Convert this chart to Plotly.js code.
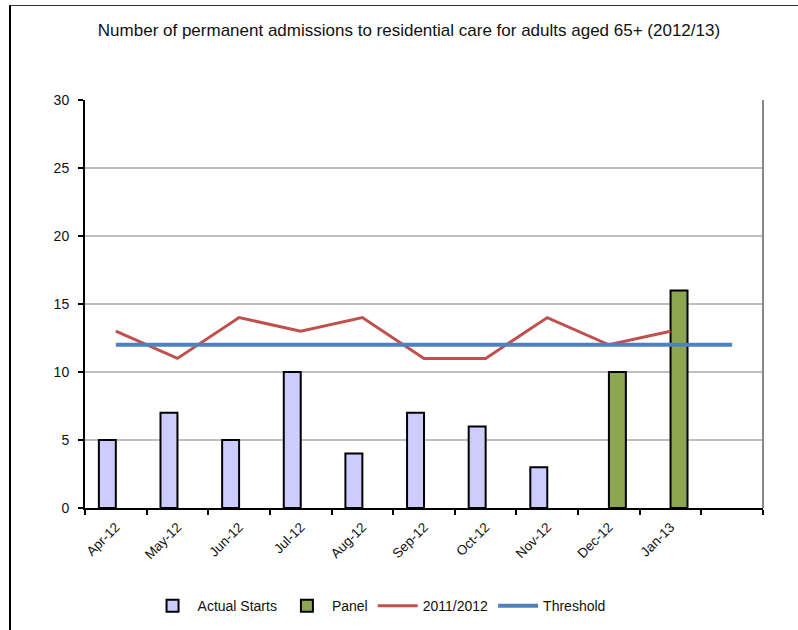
<!DOCTYPE html>
<html>
<head>
<meta charset="utf-8">
<script src="https://cdn.plot.ly/plotly-3.0.1.min.js"></script>
<style>
  html, body { margin: 0; padding: 0; background: #fff; }
  #frame { position: absolute; left: 0; top: 0; width: 798px; height: 630px; }
  #frame:before { content: ""; position: absolute; left: 9px; top: 5px; right: 0; bottom: 0;
    border-left: 2px solid #000; border-top: 1px solid #333; pointer-events: none; z-index: 5; }
  #chart { width: 798px; height: 630px; }
</style>
</head>
<body>
<div id="frame"><div id="chart"></div></div>
<script>
// ---- data ----
const categories = ["Apr-12", "May-12", "Jun-12", "Jul-12", "Aug-12", "Sep-12", "Oct-12", "Nov-12", "Dec-12", "Jan-13", "Feb-13"];
const tickLabels = ["Apr-12", "May-12", "Jun-12", "Jul-12", "Aug-12", "Sep-12", "Oct-12", "Nov-12", "Dec-12", "Jan-13", ""];
const actualStarts = [5, 7, 5, 10, 4, 7, 6, 3, null, null, null];
const panel = [null, null, null, null, null, null, null, null, 10, 16, null];
const prevYear = [13, 11, 14, 13, 14, 11, 11, 14, 12, 13, null];
const threshold = [12, 12, 12, 12, 12, 12, 12, 12, 12, 12, 12];
const yTicks = [0, 5, 10, 15, 20, 25, 30];

const font = "Arial, 'Liberation Sans', sans-serif";

const traces = [
  { type: "bar", name: "Actual Starts", x: categories, y: actualStarts,
    marker: { color: "#CCCCFF", line: { color: "#000", width: 2 } } },
  { type: "bar", name: "Panel", x: categories, y: panel,
    marker: { color: "#8CA750", line: { color: "#000", width: 2 } } },
  { type: "scatter", mode: "lines", name: "2011/2012", x: categories, y: prevYear,
    line: { color: "#C0504D", width: 3 } },
  { type: "scatter", mode: "lines", name: "Threshold", x: categories, y: threshold,
    line: { color: "#4F81BD", width: 4 } }
];

const layout = {
  width: 798, height: 630,
  margin: { l: 85, r: 35, t: 100, b: 122 },
  paper_bgcolor: "#fff", plot_bgcolor: "#fff",
  font: { family: font, size: 12, color: "#111" },
  title: { text: "Number of permanent admissions to residential care for adults aged 65+ (2012/13)",
    x: 0.5125, xanchor: "center", y: 0.952, yanchor: "middle",
    font: { family: font, size: 17, color: "#111" } },
  barmode: "group", bargap: 0.45, bargroupgap: 0,
  showlegend: true,
  legend: { orientation: "h", xref: "container", yref: "container",
    x: 0.475, xanchor: "center", y: 0.038, yanchor: "middle",
    itemwidth: 40, font: { family: font, size: 14, color: "#111" }, traceorder: "normal" },
  xaxis: { type: "category", categoryorder: "array", categoryarray: categories,
    tickmode: "array", tickvals: categories, ticktext: tickLabels, automargin: false,
    tickangle: -45, tickson: "boundaries", ticks: "outside", ticklen: 5, tickcolor: "#000", tickwidth: 2,
    ticklabelstandoff: 4,
    showline: true, linecolor: "#000", linewidth: 2, showgrid: false, zeroline: false,
    tickfont: { family: font, size: 13.5, color: "#111" } },
  yaxis: { range: [0, 30], tickmode: "array", tickvals: yTicks, automargin: false,
    ticks: "outside", ticklen: 5, tickcolor: "#000", tickwidth: 2,
    ticklabelstandoff: 6,
    showline: true, linecolor: "#000", linewidth: 2,
    showgrid: true, gridcolor: "#BFBFBF", gridwidth: 1.5, zeroline: false,
    tickfont: { family: font, size: 14, color: "#111" } },
  shapes: [
    { type: "line", xref: "paper", yref: "paper", x0: 1, x1: 1, y0: 0, y1: 1,
      line: { color: "#888", width: 2 } }
  ]
};

Plotly.newPlot("chart", traces, layout, { displayModeBar: false, staticPlot: true });
</script>
</body>
</html>
